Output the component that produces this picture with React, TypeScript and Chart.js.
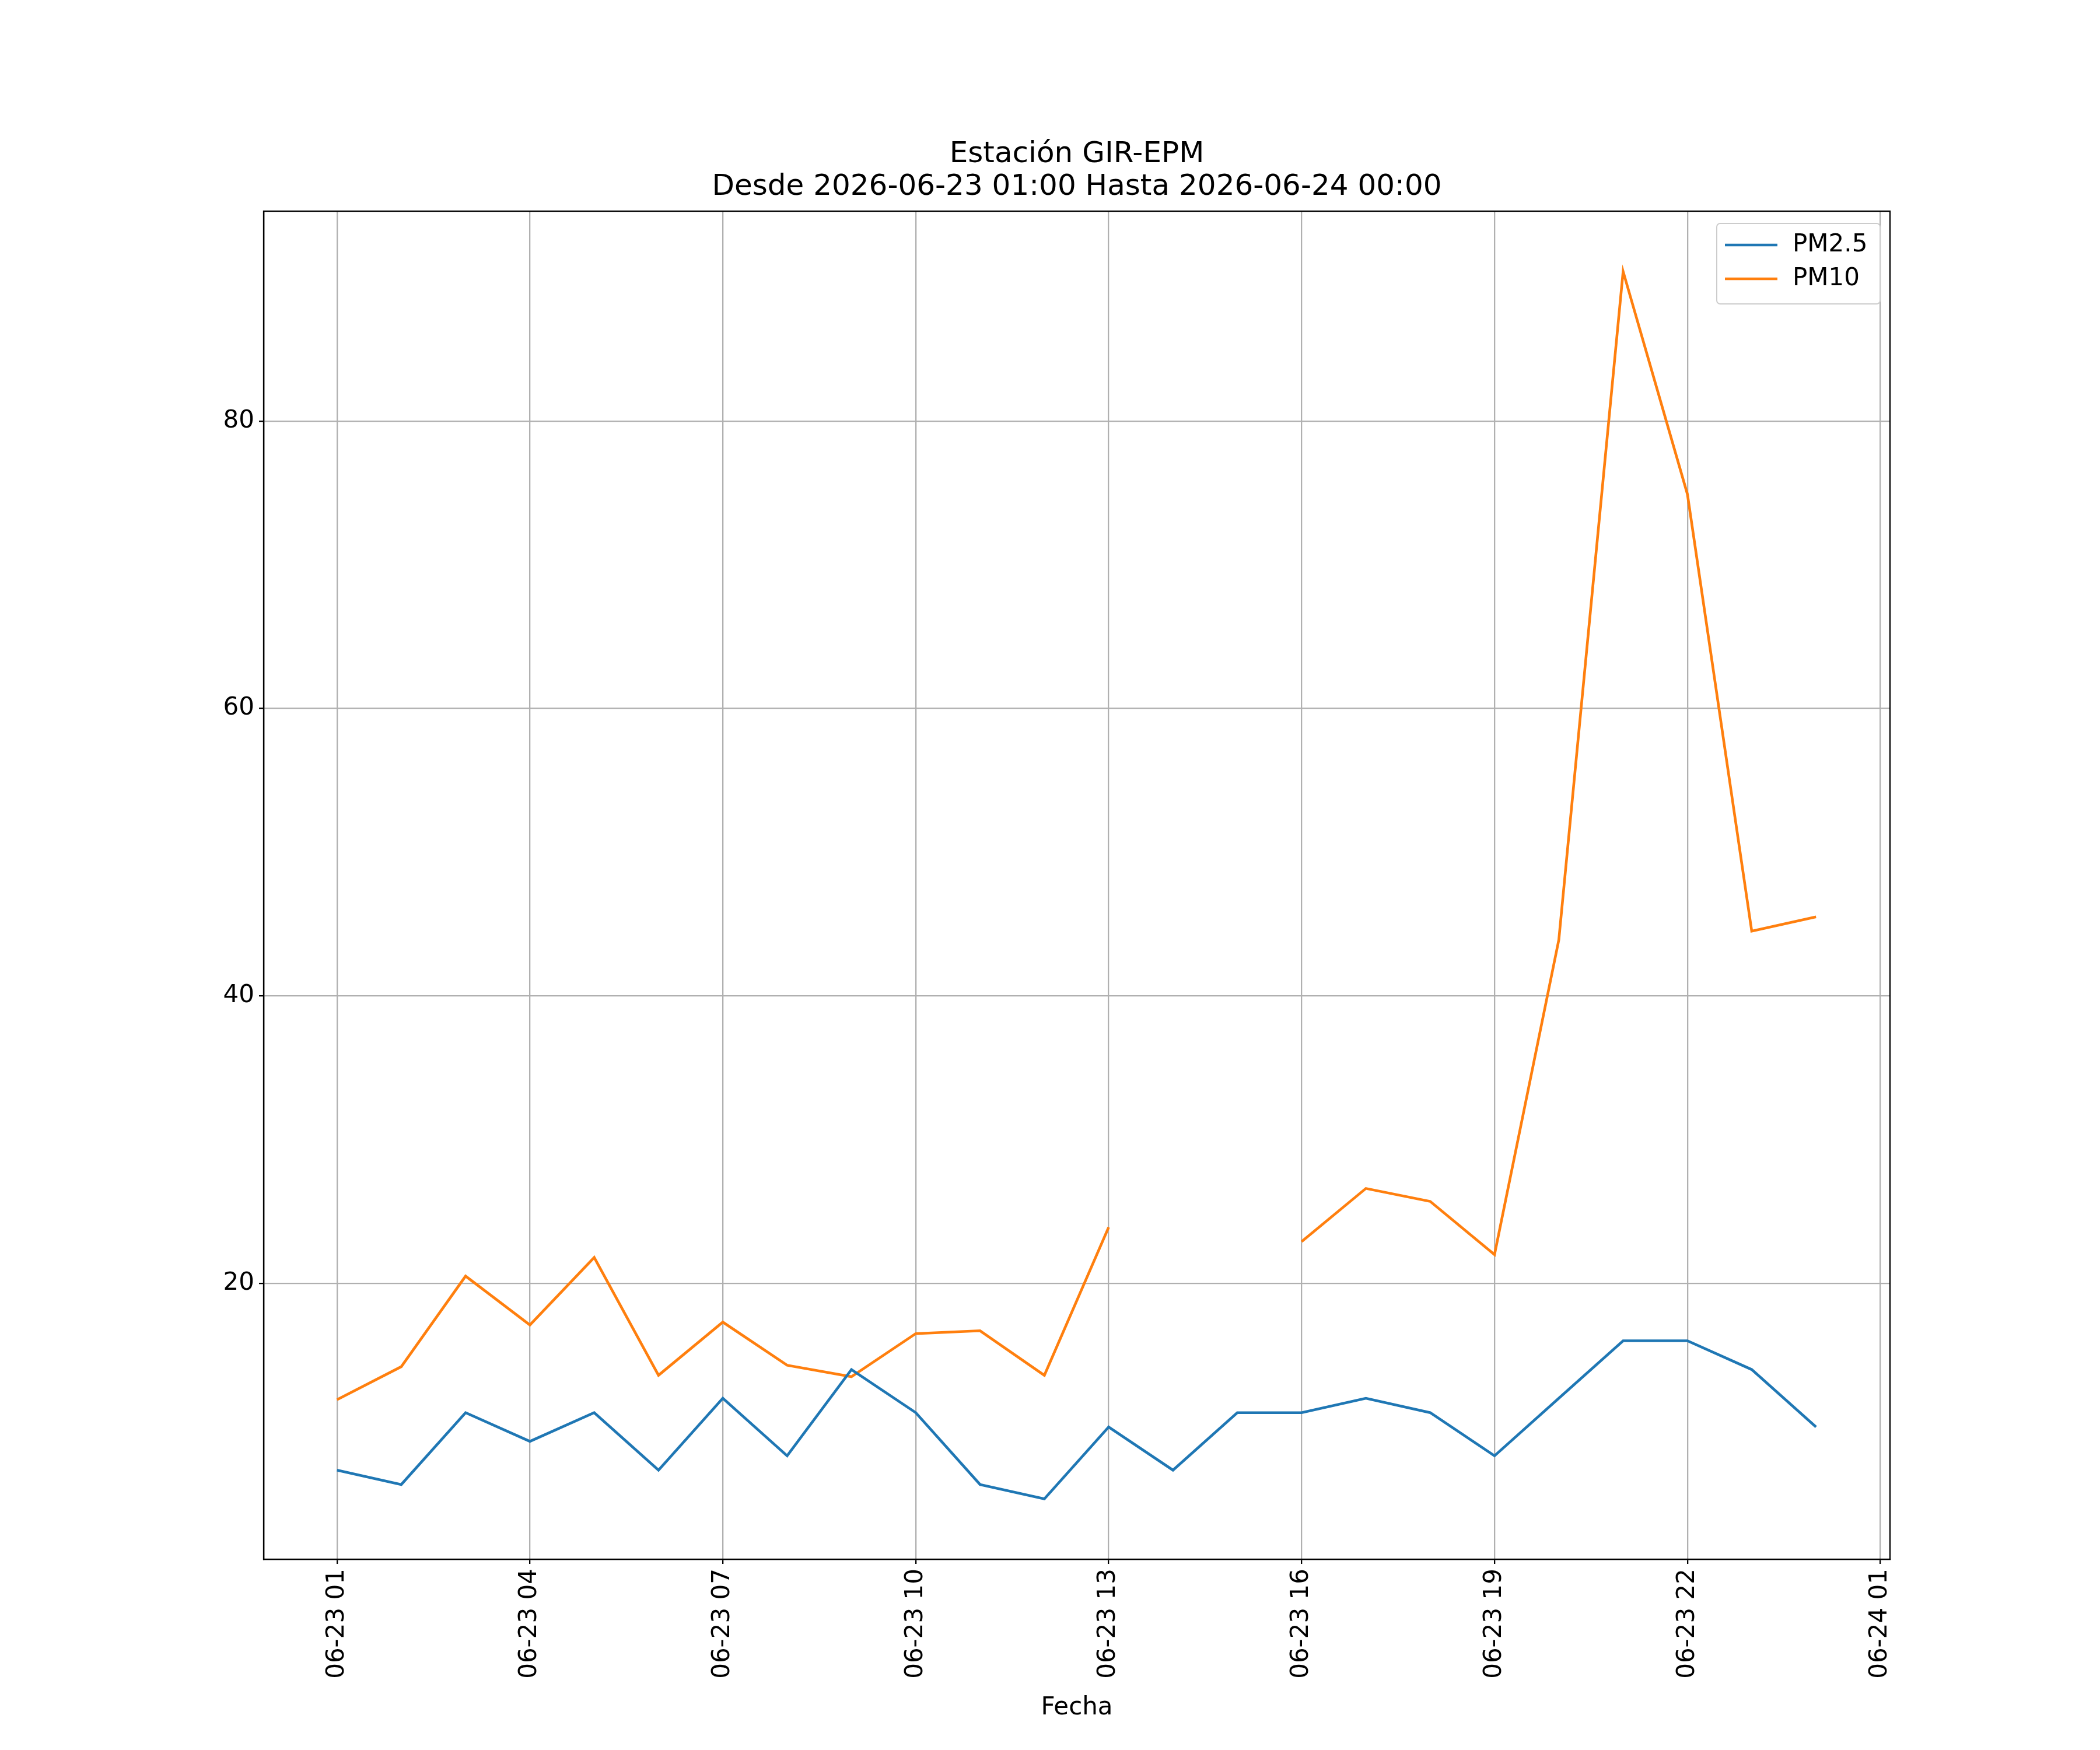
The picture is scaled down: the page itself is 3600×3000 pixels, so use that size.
import React, { useEffect, useRef } from "react";
import { Chart, registerables } from "chart.js";
Chart.register(...registerables);

const hours = Array.from({ length: 24 }, (_, i) => i);
const pm25 = [7, 6, 11, 9, 11, 7, 12, 8, 14, 11, 6, 5, 10, 7, 11, 11, 12, 11, 8, 12, 16, 16, 14, 10];
const pm10 = [11.9, 14.2, 20.5, 17.1, 21.8, 13.6, 17.3, 14.3, 13.5, 16.5, 16.7, 13.6, 23.9, null, null, 22.9, 26.6, 25.7, 22.0, 43.9, 90.4, 74.9, 44.5, 45.5];
const xTickValues = [0, 3, 6, 9, 12, 15, 18, 21, 24];
const xTickLabels = ["06-23 01", "06-23 04", "06-23 07", "06-23 10", "06-23 13", "06-23 16", "06-23 19", "06-23 22", "06-24 01"];
const yTickValues = [20, 40, 60, 80];
const titleLines = ["Estación GIR-EPM", "Desde 2026-06-23 01:00 Hasta 2026-06-24 00:00"];
const seriesNames = ["PM2.5", "PM10"];
const colors = ["#1f77b4", "#ff7f0e"];
const FONT = "DejaVu Sans";

export default function App() {
  const ref = useRef<HTMLCanvasElement>(null);
  useEffect(() => {
    const deco = {
      id: "deco",
      afterDraw(c: any) {
        const ctx = c.ctx;
        const a = c.chartArea;
        ctx.save();
        ctx.fillStyle = "#000";
        ctx.textAlign = "center";
        ctx.textBaseline = "middle";
        ctx.font = `50px '${FONT}'`;
        const cx = (a.left + a.right) / 2;
        ctx.fillText(titleLines[0], cx, 265);
        ctx.fillText(titleLines[1], cx, 321);
        ctx.font = `42px '${FONT}'`;
        ctx.fillText("Fecha", cx, 2928);
        // legend
        const bx = 2943, by = 383, bw = 280, bh = 138;
        ctx.fillStyle = "rgba(255,255,255,0.8)";
        ctx.strokeStyle = "#cccccc";
        ctx.lineWidth = 2;
        ctx.beginPath();
        ctx.roundRect(bx, by, bw, bh, 6);
        ctx.fill();
        ctx.stroke();
        ctx.textAlign = "left";
        ctx.font = `42px '${FONT}'`;
        [420, 478].forEach((y, i) => {
          ctx.strokeStyle = colors[i];
          ctx.lineWidth = 4.6;
          ctx.beginPath();
          ctx.moveTo(2957, y);
          ctx.lineTo(3047, y);
          ctx.stroke();
          ctx.fillStyle = "#000";
          ctx.fillText(seriesNames[i], 3073, y);
        });
        ctx.restore();
      },
    };
    const chart = new Chart(ref.current!, {
      type: "line",
      data: {
        labels: hours,
        datasets: [
          { label: seriesNames[0], data: hours.map((h, i) => ({ x: h, y: pm25[i] })), borderColor: colors[0], borderWidth: 4.6, pointRadius: 0, tension: 0 },
          { label: seriesNames[1], data: hours.map((h, i) => ({ x: h, y: pm10[i] as any })), borderColor: colors[1], borderWidth: 4.6, pointRadius: 0, tension: 0, spanGaps: false },
        ],
      },
      options: {
        responsive: false,
        animation: false,
        devicePixelRatio: 1,
        layout: { padding: { top: 362, right: 360, left: 0, bottom: 0 } },
        plugins: { legend: { display: false }, title: { display: false }, tooltip: { enabled: false } },
        scales: {
          x: {
            type: "linear",
            min: -1.14,
            max: 24.15,
            afterFit: (s: any) => { s.height = 327; },
            afterBuildTicks: (s: any) => { s.ticks = xTickValues.map((v) => ({ value: v })); },
            ticks: {
              autoSkip: false,
              minRotation: 90,
              maxRotation: 90,
              color: "#000",
              font: { family: FONT, size: 42 },
              padding: 8,
              callback: (v: any) => xTickLabels[xTickValues.indexOf(Number(v))] ?? "",
            },
            grid: { color: "#b0b0b0", lineWidth: 2.3, tickLength: 8, tickColor: "#000" },
            border: { color: "#000", width: 2.3 },
          },
          y: {
            min: 0.8,
            max: 94.6,
            afterFit: (s: any) => { s.width = 452; },
            afterBuildTicks: (s: any) => { s.ticks = yTickValues.map((v) => ({ value: v })); },
            ticks: { color: "#000", font: { family: FONT, size: 42 }, padding: 8 },
            grid: { color: "#b0b0b0", lineWidth: 2.3, tickLength: 8, tickColor: "#000" },
            border: { color: "#000", width: 2.3 },
          },
        },
      },
      plugins: [deco, {
        id: "frame",
        afterDraw(c: any) {
          const a = c.chartArea, ctx = c.ctx;
          ctx.save();
          ctx.strokeStyle = "#000";
          ctx.lineWidth = 2.3;
          ctx.strokeRect(a.left, a.top, a.right - a.left, a.bottom - a.top);
          ctx.restore();
        },
      }],
    } as any);
    return () => chart.destroy();
  }, []);
  return (
    <div style={{ position: "absolute", left: 0, top: 0, width: 3600, height: 3000, background: "#fff" }}>
      <canvas ref={ref} width={3600} height={3000} style={{ width: 3600, height: 3000 }} />
    </div>
  );
}
